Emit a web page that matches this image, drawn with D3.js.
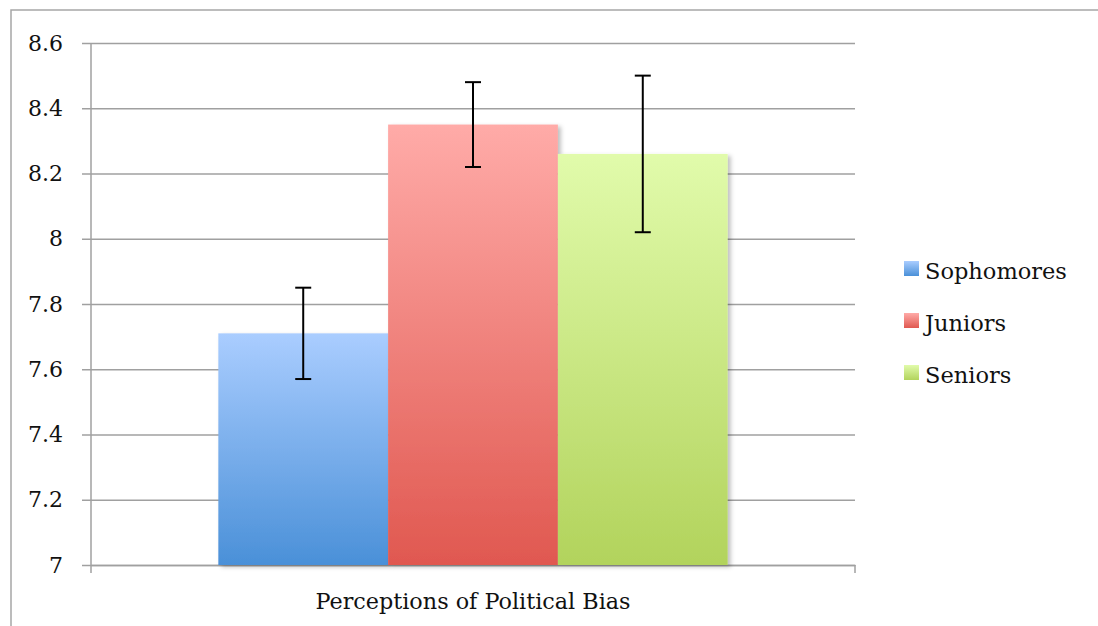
<!DOCTYPE html>
<html>
<head>
<meta charset="utf-8">
<script src="https://cdn.jsdelivr.net/npm/d3@7"></script>
<style>
  body { margin: 0; background: #fff; }
  svg { display: block; }
  text { font-family: "DejaVu Serif", serif; fill: #111; }
</style>
</head>
<body>
<div id="chart"></div>
<script>
// Perceptions of Political Bias, by class year
const category = "Perceptions of Political Bias";
const series = ["Sophomores", "Juniors", "Seniors"];
const means = [7.71, 8.35, 8.26];
const errLow = [7.57, 8.22, 8.02];
const errHigh = [7.85, 8.48, 8.50];
const yTicks = [7, 7.2, 7.4, 7.6, 7.8, 8, 8.2, 8.4, 8.6];
const gradTop = ["#aacdff", "#ffaba8", "#e1fbab"];
const gradBottom = ["#4a90d8", "#e05850", "#b2d35c"];

const width = 1098, height = 626;
const margin = { top: 43, right: 243, bottom: 61, left: 91 };
const innerW = width - margin.left - margin.right;
const innerH = height - margin.top - margin.bottom;

const svg = d3.select("#chart").append("svg")
  .attr("width", width)
  .attr("height", height);

// outer frame (only left and top edges fall inside the picture)
svg.append("rect")
  .attr("x", 11).attr("y", 10)
  .attr("width", width + 20).attr("height", height + 20)
  .attr("fill", "none").attr("stroke", "#a6a6a6").attr("stroke-width", 1.5);

const defs = svg.append("defs");
series.forEach((s, i) => {
  const g = defs.append("linearGradient")
    .attr("id", "grad" + i)
    .attr("x1", 0).attr("y1", 0).attr("x2", 0).attr("y2", 1);
  g.append("stop").attr("offset", "0%").attr("stop-color", gradTop[i]);
  g.append("stop").attr("offset", "100%").attr("stop-color", gradBottom[i]);
});
const shadow = defs.append("filter").attr("id", "shadow")
  .attr("x", "-10%").attr("y", "-10%").attr("width", "130%").attr("height", "130%");
shadow.append("feDropShadow")
  .attr("dx", 3).attr("dy", 2).attr("stdDeviation", 2)
  .attr("flood-color", "#000").attr("flood-opacity", 0.25);

const g = svg.append("g")
  .attr("transform", `translate(${margin.left},${margin.top})`);

const y = d3.scaleLinear().domain([7, 8.6]).range([innerH, 0]);
const x0 = d3.scaleBand().domain([category]).range([0, innerW])
  .paddingInner(0).paddingOuter(0.25);
const x1 = d3.scaleBand().domain(series).range([0, x0.bandwidth()]).padding(0);

// gridlines + left ticks
g.append("g")
  .call(d3.axisLeft(y).tickValues(yTicks).tickSize(-innerW).tickSizeOuter(0)
    .tickPadding(28).tickFormat(d3.format("")))
  .call(a => a.select(".domain").remove())
  .call(a => a.selectAll(".tick line")
    .attr("x1", -9).attr("stroke", "#a0a0a0").attr("stroke-width", 1.5))
  .call(a => a.selectAll(".tick text")
    .attr("font-size", 22).attr("fill", "#111"));

// y axis line
g.append("line")
  .attr("x1", 0).attr("x2", 0).attr("y1", 0).attr("y2", innerH + 8)
  .attr("stroke", "#a0a0a0").attr("stroke-width", 1.5);

// x axis
g.append("g")
  .attr("transform", `translate(0,${innerH})`)
  .call(d3.axisBottom(x0).tickSize(0).tickSizeOuter(0).tickPadding(28))
  .call(a => a.select(".domain").attr("stroke", "#a0a0a0").attr("stroke-width", 1.5))
  .call(a => a.selectAll(".tick text")
    .attr("font-size", 22.3).attr("fill", "#111"));
g.append("line")
  .attr("x1", innerW).attr("x2", innerW).attr("y1", innerH).attr("y2", innerH + 8)
  .attr("stroke", "#a0a0a0").attr("stroke-width", 1.5);

// bars
const gx = x0(category);
g.selectAll(".bar")
  .data(series)
  .enter()
  .append("rect")
  .attr("class", "bar")
  .attr("x", d => gx + x1(d))
  .attr("width", x1.bandwidth())
  .attr("y", (_, i) => y(means[i]))
  .attr("height", (_, i) => innerH - y(means[i]))
  .attr("fill", (_, i) => `url(#grad${i})`)
  .attr("filter", "url(#shadow)");

// error bars
const cap = 8;
series.forEach((s, i) => {
  const cx = gx + x1(s) + x1.bandwidth() / 2;
  const eg = g.append("g").attr("stroke", "#000").attr("stroke-width", 2);
  eg.append("line").attr("x1", cx).attr("x2", cx)
    .attr("y1", y(errLow[i])).attr("y2", y(errHigh[i]));
  eg.append("line").attr("x1", cx - cap).attr("x2", cx + cap)
    .attr("y1", y(errLow[i])).attr("y2", y(errLow[i]));
  eg.append("line").attr("x1", cx - cap).attr("x2", cx + cap)
    .attr("y1", y(errHigh[i])).attr("y2", y(errHigh[i]));
});

// legend
const legend = svg.append("g").attr("transform", "translate(904,261)");
series.forEach((s, i) => {
  const row = legend.append("g").attr("transform", `translate(0,${i * 52})`);
  row.append("rect").attr("width", 15).attr("height", 15)
    .attr("fill", `url(#grad${i})`);
  row.append("text").attr("x", 21).attr("y", 18)
    .attr("font-size", 22.5).text(s);
});
</script>
</body>
</html>
